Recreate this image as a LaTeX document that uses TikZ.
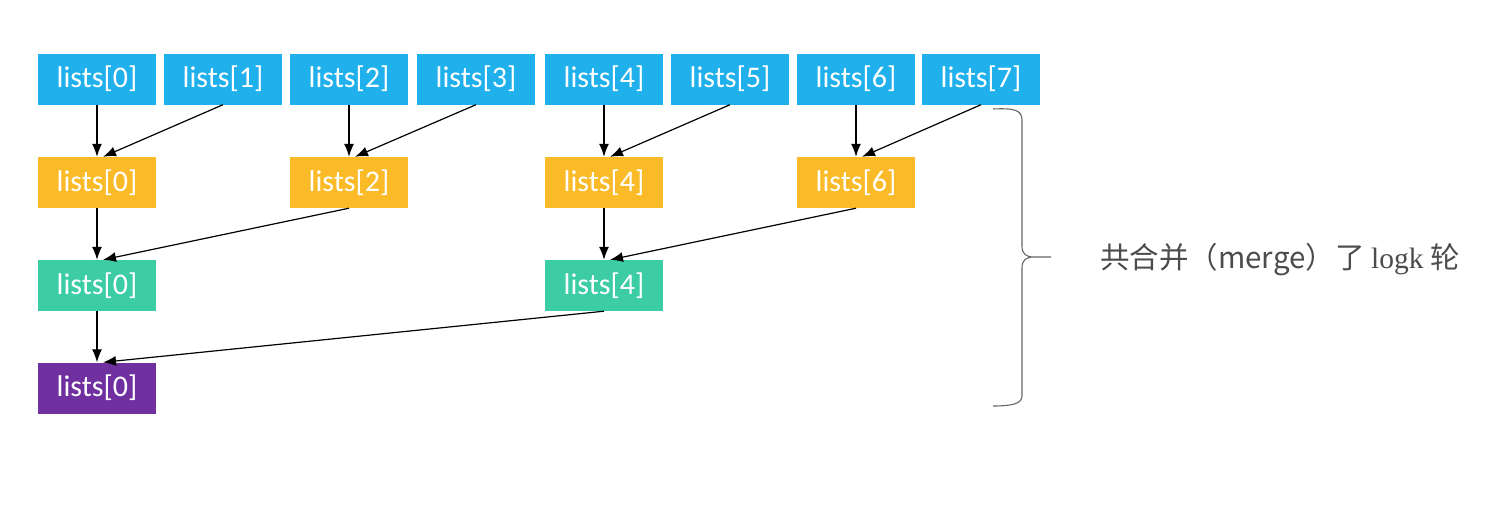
\documentclass[tikz,border=0pt]{standalone}
\usepackage{fontspec}
\usepackage{tikz}
\usetikzlibrary{arrows.meta}
\newfontfamily\carlito{Carlito}
\newfontfamily\cjk{Noto Sans CJK SC}
\newfontfamily\serifx{Liberation Serif}
\definecolor{listblue}{RGB}{32,176,236}
\definecolor{listorange}{RGB}{251,186,40}
\definecolor{listgreen}{RGB}{60,205,165}
\definecolor{listpurple}{RGB}{112,48,160}
\tikzset{
    listbox/.style={minimum width=118pt, minimum height=51pt, inner sep=0pt, text=white,
        font=\carlito\fontsize{30}{30}\selectfont},
    merge/.style={line width=1.2pt, -{Latex[length=13pt, width=10pt]}}
}
\begin{document}
\begin{tikzpicture}[x=1pt, y=-1pt]
    \useasboundingbox (0,0) rectangle (1488,504);
    % first round
    \node[listbox, fill=listblue] (a0) at (97,79) {lists[0]};
    \node[listbox, fill=listblue] (a1) at (223,79) {lists[1]};
    \node[listbox, fill=listblue] (a2) at (349,79) {lists[2]};
    \node[listbox, fill=listblue] (a3) at (476,79) {lists[3]};
    \node[listbox, fill=listblue] (a4) at (604,79) {lists[4]};
    \node[listbox, fill=listblue] (a5) at (730,79) {lists[5]};
    \node[listbox, fill=listblue] (a6) at (856,79) {lists[6]};
    \node[listbox, fill=listblue] (a7) at (981,79) {lists[7]};
    \node[listbox, fill=listorange] (b0) at (97,182.5) {lists[0]};
    \node[listbox, fill=listorange] (b2) at (349,182.5) {lists[2]};
    \node[listbox, fill=listorange] (b4) at (604,182.5) {lists[4]};
    \node[listbox, fill=listorange] (b6) at (856,182.5) {lists[6]};
    \node[listbox, fill=listgreen] (c0) at (97,285.5) {lists[0]};
    \node[listbox, fill=listgreen] (c4) at (604,285.5) {lists[4]};
    \node[listbox, fill=listpurple] (d0) at (97,388) {lists[0]};
    \foreach \i/\j in {0/1, 2/3, 4/5, 6/7} {
        \draw[merge] (a\i.south) -- (b\i.north);
        \draw[merge] (a\j.south) -- ([xshift=6pt]b\i.north);
    }
    \draw[merge] (b0.south) -- (c0.north);
    \draw[merge] (b2.south) -- ([xshift=6pt]c0.north);
    \draw[merge] (b4.south) -- (c4.north);
    \draw[merge] (b6.south) -- ([xshift=6pt]c4.north);
    \draw[merge] (c0.south) -- (d0.north);
    \draw[merge] (c4.south) -- ([xshift=6pt]d0.north);
    % brace and note
    \coordinate (top) at (993,109);
    \coordinate (bottom) at (993,406);
    \coordinate (tip) at (1051,257);
    \draw[black!60, line width=1.1pt]
        (top) .. controls (1014,108) and (1022,110) .. (1022,120)
        -- (1022,246) .. controls (1022,254) and (1026,257) .. (1034,257) -- (tip)
        (1034,257) .. controls (1026,257) and (1022,260) .. (1022,268)
        -- (1022,396) .. controls (1022,403) and (1014,406) .. (bottom);
    \node[anchor=west, text=black!70, inner sep=0pt] (note) at (1100,260)
        {\fontsize{29.5}{29.5}\selectfont\cjk 共合并（merge）了 {\serifx logk} 轮};
\end{tikzpicture}
\end{document}
